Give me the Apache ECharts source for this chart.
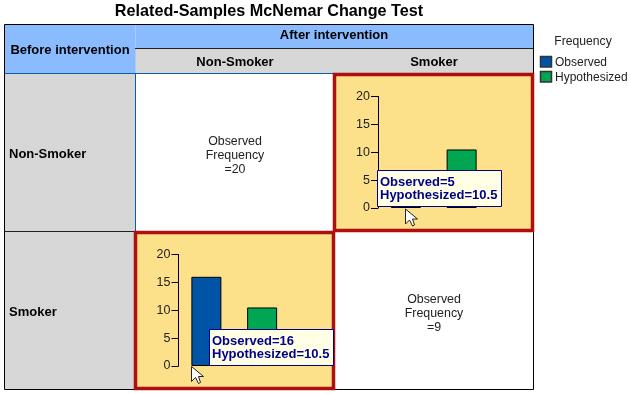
<!DOCTYPE html>
<html><head><meta charset="utf-8">
<style>html,body{margin:0;padding:0;background:#fff}#c{width:630px;height:394px}</style>
<script src="https://cdn.jsdelivr.net/npm/echarts@6/dist/echarts.min.js"></script>
</head><body><div id="c"></div>
<script>
const titleText = 'Related-Samples McNemar Change Test';
const beforeLabel = 'Before intervention';
const afterLabel = 'After intervention';
const stateLabels = ['Non-Smoker', 'Smoker'];
const legendTitle = 'Frequency';
const categories = ['Observed', 'Hypothesized'];
const barColors = ['#0054a6', '#00a651'];
const yTicks = [0, 20, 5];
const observedNonSmokerToSmoker = 5;
const observedSmokerToNonSmoker = 16;
const observedNonSmokerStay = 20;
const observedSmokerStay = 9;
const hypothesized = 10.5;

const chart = echarts.init(document.getElementById('c'), null, {renderer: 'canvas'});
const SANS = '"Liberation Sans", Arial, sans-serif';

// fine dither used by the grey SPSS header cells
const dither = document.createElement('canvas');
dither.width = dither.height = 2;
const dc = dither.getContext('2d');
dc.fillStyle = '#dadada'; dc.fillRect(0, 0, 2, 2);
dc.fillStyle = '#d3d3d3'; dc.fillRect(0, 0, 1, 1); dc.fillRect(1, 1, 1, 1);
const grey = {image: dither, repeat: 'repeat'};

const G = [];
const rect = (x, y, w, h, fill, stroke, lw, z) => G.push({type: 'rect', z: z || -5, silent: true,
  shape: {x, y, width: w, height: h}, style: {fill: fill || 'none', stroke: stroke || 'none', lineWidth: lw || 0}});
const text = (x, y, t, o) => G.push({type: 'text', z: (o && o.z) || 20, silent: true, x, y, style: Object.assign({
  text: t, fontFamily: SANS, fontSize: 12, fill: '#000', align: 'center', verticalAlign: 'middle'}, o || {})});
const line = (x1, y1, x2, y2, c) => G.push({type: 'line', z: -4, silent: true,
  shape: {x1, y1, x2, y2}, style: {stroke: c, lineWidth: 1}});

rect(135, 25, 398, 24, '#8abbff');
rect(5, 25, 130, 48, '#8abbff');
rect(135, 49, 398, 24, grey);
rect(5, 73, 130, 316, grey);
rect(135, 73, 199, 158, '#fff');
rect(334, 231, 199, 158, '#fff');
line(135.5, 25, 135.5, 73, '#a9ccff');
line(135, 48.5, 533, 48.5, '#222');
line(5, 73.5, 533, 73.5, '#0b5cad');
line(135.5, 73, 135.5, 389, '#0b5cad');
line(5, 231.5, 533, 231.5, '#222');
line(334.5, 73, 334.5, 389, '#222');
rect(4.5, 24.5, 529, 365, null, '#000', 1, -3);

// highlighted cells
rect(334.5, 74.5, 198, 156, '#fce08a', '#b00f0f', 3.5, -2);
rect(135.5, 232.5, 198, 156, '#fce08a', '#b00f0f', 3.5, -2);

text(269, 11.5, titleText, {fontSize: 16.2, fontWeight: 'bold'});
const hdr = {fontWeight: 'bold', fontSize: 13};
text(70, 50.5, beforeLabel, hdr);
text(334, 35.5, afterLabel, hdr);
text(235, 62.5, stateLabels[0], hdr);
text(434, 62.5, stateLabels[1], hdr);
text(9, 154.5, stateLabels[0], Object.assign({align: 'left'}, hdr));
text(9, 312.5, stateLabels[1], Object.assign({align: 'left'}, hdr));

const cellText = n => 'Observed\nFrequency\n=' + n;
text(235, 156, cellText(observedNonSmokerStay), {lineHeight: 14, fontSize: 12.4, fill: '#222'});
text(434, 314, cellText(observedSmokerStay), {lineHeight: 14, fontSize: 12.4, fill: '#222'});

// legend
text(583, 41.5, legendTitle, {fontSize: 12.2, fill: '#222'});
rect(540.5, 56.5, 11, 10.5, barColors[0], '#333', 1.5, 5);
rect(540.5, 71.5, 11, 10.5, barColors[1], '#333', 1.5, 5);
text(555, 62.5, categories[0], {align: 'left', fill: '#222'});
text(555, 77.5, categories[1], {align: 'left', fill: '#222'});

// tooltips
const tip = (x, y, w, h, a, b) => {
  rect(x + .5, y + .5, w, h, '#ffffe6', '#00008b', 1, 15);
  text(x + 3, y + 19, a + '=' + b + '\n' + categories[1] + '=' + hypothesized, {
    align: 'left', fontWeight: 'bold', fontSize: 13, lineHeight: 13.5, fill: '#00008b'
  });
};
tip(377, 170, 124, 36, categories[0], observedNonSmokerToSmoker);
tip(209, 329, 124, 36, categories[0], observedSmokerToNonSmoker);

// mouse pointers
const cursor = (x, y) => G.push({type: 'polygon', z: 25, silent: true, x, y,
  shape: {points: [[0,0],[0,15],[4,11],[7,17],[9,16],[7,10],[12,10]]}, style: {fill: '#fff', stroke: '#222', lineWidth: 1}});
cursor(405.5, 209);
cursor(191.5, 366.5);

const grids = [
  {left: 378, top: 96.5, width: 111.5, height: 111.5},
  {left: 178.5, top: 254.5, width: 111.5, height: 111.5}
];
const values = [[observedNonSmokerToSmoker, hypothesized], [observedSmokerToNonSmoker, hypothesized]];
chart.setOption({
  animation: false,
  backgroundColor: '#fff',
  graphic: {elements: G},
  grid: grids,
  xAxis: grids.map((g, i) => ({type: 'category', gridIndex: i, data: categories, show: false})),
  yAxis: grids.map((g, i) => ({type: 'value', gridIndex: i, min: yTicks[0], max: yTicks[1], interval: yTicks[2],
    splitLine: {show: false},
    axisLine: {show: true, lineStyle: {color: '#000', width: 1}},
    axisTick: {show: true, length: 7, lineStyle: {color: '#000', width: 1}},
    axisLabel: {color: '#222', fontFamily: SANS, fontSize: 12.5, margin: 8}})),
  series: values.map((v, i) => ({type: 'bar', xAxisIndex: i, yAxisIndex: i, barWidth: 30, silent: true, z: 3,
    data: v.map((d, k) => ({value: d, itemStyle: {color: barColors[k], borderColor: '#000', borderWidth: 1}}))}))
});
</script></body></html>
